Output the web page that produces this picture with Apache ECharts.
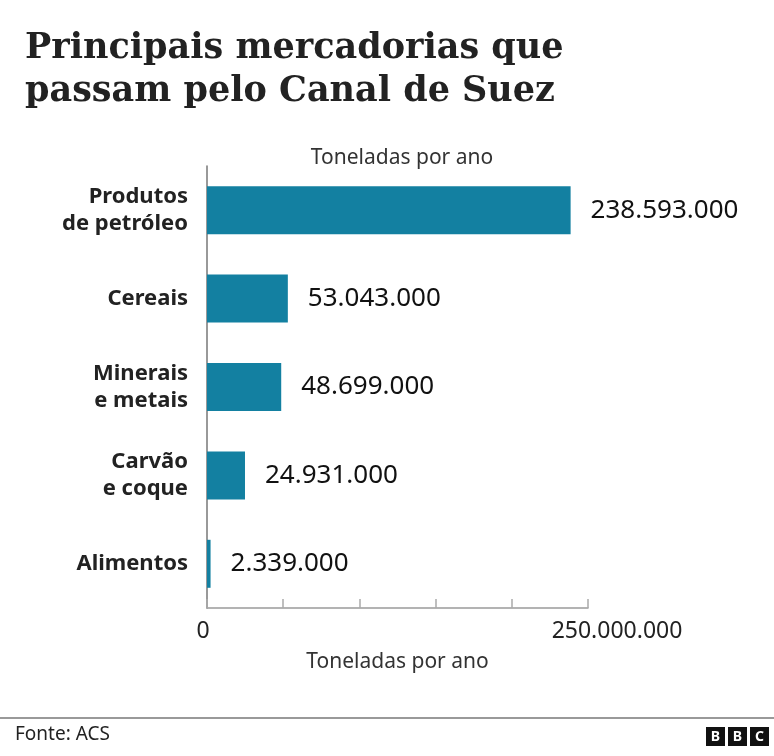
<!DOCTYPE html>
<html>
<head>
<meta charset="utf-8">
<script src="https://cdn.jsdelivr.net/npm/echarts@6/dist/echarts.min.js"></script>
<style>html,body{margin:0;padding:0;background:#fff}#c{width:774px;height:756px}</style>
</head>
<body>
<div id="c"></div>
<script>
const categories = ['Produtos\nde petróleo', 'Cereais', 'Minerais\ne metais', 'Carvão\ne coque', 'Alimentos'];
const values = [238593000, 53043000, 48699000, 24931000, 2339000];
const valueLabels = ['238.593.000', '53.043.000', '48.699.000', '24.931.000', '2.339.000'];
const xTickValues = [0, 50000000, 100000000, 150000000, 200000000, 250000000];
const xTickLabels = ['0', '', '', '', '', '250.000.000'];

const chart = echarts.init(document.getElementById('c'), null, {renderer: 'canvas'});
const sans = 'Noto Sans';
chart.setOption({
  animation: false,
  title: [{
    text: 'Principais mercadorias que\npassam pelo Canal de Suez',
    left: 20, top: 22,
    textStyle: {fontFamily: 'DejaVu Serif', fontWeight: 'bold', fontSize: 35, lineHeight: 43, color: '#222'}
  }, {
    text: 'Toneladas por ano',
    left: 397, top: 143, textAlign: 'center',
    textStyle: {fontFamily: sans, fontWeight: 'normal', fontSize: 21, color: '#333'}
  }],
  grid: {left: 207, right: 186, top: 166, bottom: 148, containLabel: false},
  xAxis: {
    type: 'value', min: 0, max: 250000000, interval: 50000000,
    name: 'Toneladas por ano', nameLocation: 'middle', nameGap: 44,
    nameTextStyle: {fontFamily: sans, fontSize: 21, color: '#333'},
    axisLine: {show: true, lineStyle: {color: '#9a9a9a', width: 1.5}},
    axisTick: {show: true, inside: true, length: 9, lineStyle: {color: '#aaa', width: 1.5}},
    splitLine: {show: false},
    axisLabel: {
      margin: 12, fontFamily: sans, fontSize: 23, color: '#222',
      formatter: function (v) {
        const i = xTickValues.indexOf(v);
        const t = i >= 0 ? xTickLabels[i] : '';
        if (i === xTickValues.length - 1) return '{m|' + t + '}';
        if (i === 0) return '{z|' + t + '}';
        return t;
      },
      rich: {
        m: {fontFamily: sans, fontSize: 23, color: '#222', padding: [0, 0, 0, 58]},
        z: {fontFamily: sans, fontSize: 23, color: '#222', padding: [0, 8, 0, 0]}
      }
    }
  },
  yAxis: {
    type: 'category', data: categories, inverse: true,
    axisLine: {show: true, lineStyle: {color: '#777', width: 1.5}},
    axisTick: {show: false},
    axisLabel: {margin: 19, fontFamily: sans, fontWeight: 'bold', fontSize: 22, lineHeight: 27, color: '#222', align: 'right'}
  },
  series: [{
    type: 'bar', data: values, barWidth: 48,
    itemStyle: {color: '#1380A1'},
    label: {
      show: true, position: 'right', distance: 20,
      fontFamily: sans, fontSize: 26, color: '#111',
      formatter: function (p) { return valueLabels[p.dataIndex]; }
    }
  }],
  graphic: [
    {type: 'rect', left: 0, top: 717, shape: {width: 774, height: 2}, style: {fill: '#999'}},
    {type: 'text', left: 15, top: 725, style: {text: 'Fonte: ACS', fontFamily: sans, fontSize: 19, fill: '#222'}},
    {type: 'group', left: 706, top: 727, children: [
      {type: 'rect', shape: {x: 0, y: 0, width: 19, height: 19}, style: {fill: '#111'}},
      {type: 'rect', shape: {x: 22, y: 0, width: 19, height: 19}, style: {fill: '#111'}},
      {type: 'rect', shape: {x: 44, y: 0, width: 19, height: 19}, style: {fill: '#111'}},
      {type: 'text', x: 9.5, y: 10, style: {text: 'B', fontFamily: sans, fontWeight: 'bold', fontSize: 14, fill: '#fff', align: 'center', verticalAlign: 'middle'}},
      {type: 'text', x: 31.5, y: 10, style: {text: 'B', fontFamily: sans, fontWeight: 'bold', fontSize: 14, fill: '#fff', align: 'center', verticalAlign: 'middle'}},
      {type: 'text', x: 53.5, y: 10, style: {text: 'C', fontFamily: sans, fontWeight: 'bold', fontSize: 14, fill: '#fff', align: 'center', verticalAlign: 'middle'}}
    ]}
  ]
});
</script>
</body>
</html>
